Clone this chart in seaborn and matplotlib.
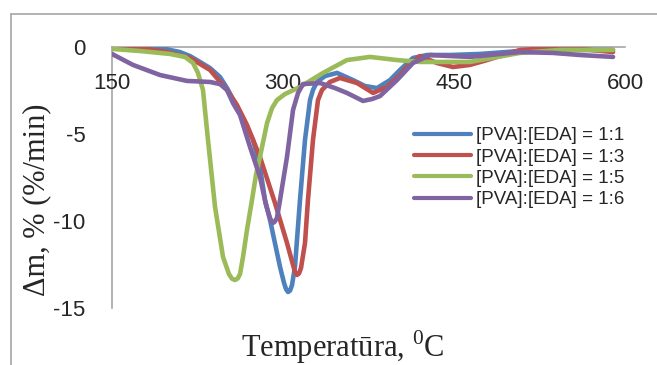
import numpy as np
import pandas as pd
import matplotlib
matplotlib.use('Agg')
import matplotlib.pyplot as plt
import seaborn as sns
from matplotlib.lines import Line2D

# values
series_names = ['[PVA]:[EDA] = 1:1', '[PVA]:[EDA] = 1:3',
                '[PVA]:[EDA] = 1:5', '[PVA]:[EDA] = 1:6']
series_colors = ['#4F81BD', '#C0504D', '#9BBB59', '#8064A2']

temp_11 = [150.0, 174.6, 196.5, 209.6, 218.4, 227.2, 236.0, 244.7, 250.9, 257.9,
           264.9, 273.7, 279.8, 284.2, 288.6, 297.4, 300.9, 302.7, 304.4, 306.2,
           307.9, 310.5, 314.9, 319.3, 323.7, 326.3, 329.8, 336.8, 347.4, 361.4,
           371.9, 382.5, 393.9, 402.6, 414.0, 426.3, 446.5, 472.8, 507.9, 543.0,
           589.5]
dm_11 = [-0.06, -0.06, -0.11, -0.29, -0.52, -0.86, -1.21, -1.72, -2.36, -3.22,
         -4.08, -5.34, -6.90, -8.79, -9.94, -12.64, -13.56, -13.92, -14.08, -14.0,
         -13.68, -12.64, -8.79, -5.34, -3.05, -2.47, -2.01, -1.67, -1.49, -1.90,
         -2.24, -2.36, -1.90, -1.32, -0.63, -0.46, -0.46, -0.40, -0.23, -0.17,
         -0.17]

temp_13 = [150.0, 174.6, 198.2, 218.4, 236.0, 250.9, 259.6, 268.4, 279.8, 293.0,
           303.5, 308.8, 310.6, 312.3, 314.0, 315.8, 319.3, 321.9, 326.3, 330.7,
           334.2, 341.2, 350.0, 364.9, 379.0, 391.2, 402.6, 408.8, 420.2, 435.1,
           449.1, 464.0, 479.0, 507.9, 536.8, 560.5, 589.5]
dm_13 = [-0.06, -0.06, -0.29, -0.63, -1.32, -2.47, -3.33, -4.48, -6.32, -8.97,
         -11.26, -12.53, -12.95, -13.10, -13.02, -12.70, -11.26, -8.79, -5.34, -3.05,
         -2.47, -2.01, -1.78, -2.07, -2.64, -2.30, -1.61, -1.15, -0.52, -0.92,
         -1.15, -1.03, -0.75, -0.17, -0.06, -0.11, -0.29]

temp_15 = [150.0, 174.6, 200.9, 214.0, 221.1, 225.4, 229.8, 234.2, 240.4, 247.4,
           252.6, 255.3, 257.9, 260.3, 262.3, 264.9, 268.4, 272.8, 276.3, 279.8,
           286.0, 290.4, 294.7, 301.8, 314.9, 335.1, 356.1, 376.3, 400.0, 420.2,
           464.0, 507.9, 543.0, 589.5]
dm_15 = [-0.11, -0.23, -0.40, -0.57, -0.92, -1.49, -2.47, -5.34, -9.20, -12.07,
         -13.05, -13.32, -13.39, -13.30, -13.05, -12.07, -10.52, -8.79, -7.36, -6.32,
         -4.37, -3.51, -3.05, -2.70, -2.30, -1.49, -0.75, -0.57, -0.75, -0.86,
         -0.86, -0.34, -0.17, -0.17]

temp_16 = [150.0, 168.4, 192.1, 215.8, 236.0, 244.7, 250.9, 256.1, 262.3, 271.1,
           279.8, 285.1, 288.6, 290.0, 291.2, 292.6, 294.7, 297.4, 303.5, 308.8,
           313.2, 317.5, 332.5, 345.6, 356.1, 370.2, 378.1, 385.1, 400.0, 414.0,
           429.0, 446.5, 464.0, 507.9, 536.8, 560.5, 589.5]
dm_16 = [-0.40, -1.03, -1.61, -1.95, -2.01, -2.13, -2.47, -3.22, -3.91, -5.75,
         -7.47, -9.08, -9.83, -10.03, -10.11, -10.05, -9.83, -8.79, -6.32, -3.62,
         -2.64, -2.13, -2.07, -2.36, -2.64, -3.10, -2.99, -2.82, -1.90, -0.92,
         -0.46, -0.52, -0.57, -0.29, -0.34, -0.46, -0.57]

x_ticks = [150, 300, 450, 600]
y_ticks = [0, -5, -10, -15]

frames = []
for name, t, d in zip(series_names, [temp_11, temp_13, temp_15, temp_16],
                      [dm_11, dm_13, dm_15, dm_16]):
    frames.append(pd.DataFrame({'T': t, 'dm': d, 'sample': name}))
df = pd.concat(frames, ignore_index=True)

sns.set_style('white')
plt.rcParams['font.family'] = ['Liberation Sans', 'DejaVu Sans']
plt.rcParams['mathtext.fontset'] = 'custom'
plt.rcParams['mathtext.rm'] = 'Liberation Serif'

fig = plt.figure(figsize=(6.57, 3.65), dpi=100)
ax = fig.add_axes([112 / 657, 1 - 308 / 365, 513 / 657, 261 / 365])

sns.lineplot(data=df, x='T', y='dm', hue='sample', palette=series_colors,
             estimator=None, sort=False, linewidth=3.3, ax=ax, legend=False)
for ln in ax.get_lines():
    ln.set_solid_joinstyle('round')
    ln.set_solid_capstyle('round')

ax.set_xlim(150, 600)
ax.set_ylim(-15, 0)
ax.set_xticks(x_ticks)
ax.set_yticks(y_ticks)
ax.set_xticklabels([str(v) for v in x_ticks])
ax.set_yticklabels([str(v) for v in y_ticks])

for s in ['top', 'right']:
    ax.spines[s].set_visible(False)
ax.spines['bottom'].set_position(('data', 0))
for s in ['left', 'bottom']:
    ax.spines[s].set_color('#a6a6a6')
    ax.spines[s].set_linewidth(1.2)
    ax.spines[s].set_zorder(0)
ax.tick_params(axis='x', length=0, pad=19, labelsize=16)
ax.tick_params(axis='y', length=0, pad=19, labelsize=16)

ax.set_xlabel('Temperatūra, $^{0}$C', family='Liberation Serif', fontsize=22,
              va='center')
ax.xaxis.set_label_coords(0.45, -0.149)
ax.set_ylabel('Δm, % (%/min)', family='Liberation Serif', fontsize=22,
              va='center')
ax.yaxis.set_label_coords(-0.146, 0.414)

handles = [Line2D([], [], color=c, linewidth=3.0, solid_capstyle='round')
           for c in series_colors]
ax.legend(handles, series_names, loc='upper left',
          bbox_to_anchor=(405 / 657, 1 - 118 / 365), bbox_transform=fig.transFigure,
          frameon=False, fontsize=13.5, handlelength=3.0, handletextpad=0.3,
          labelspacing=0.22, borderpad=0)

# outer chart border
fig.add_artist(Line2D([11 / 657, 11 / 657], [0, 1 - 14 / 365],
                      transform=fig.transFigure, color='#a6a6a6', linewidth=1.2))
fig.add_artist(Line2D([11 / 657, 1], [1 - 14 / 365, 1 - 14 / 365],
                      transform=fig.transFigure, color='#a6a6a6', linewidth=1.2))

fig.savefig('out.png', dpi=100)
